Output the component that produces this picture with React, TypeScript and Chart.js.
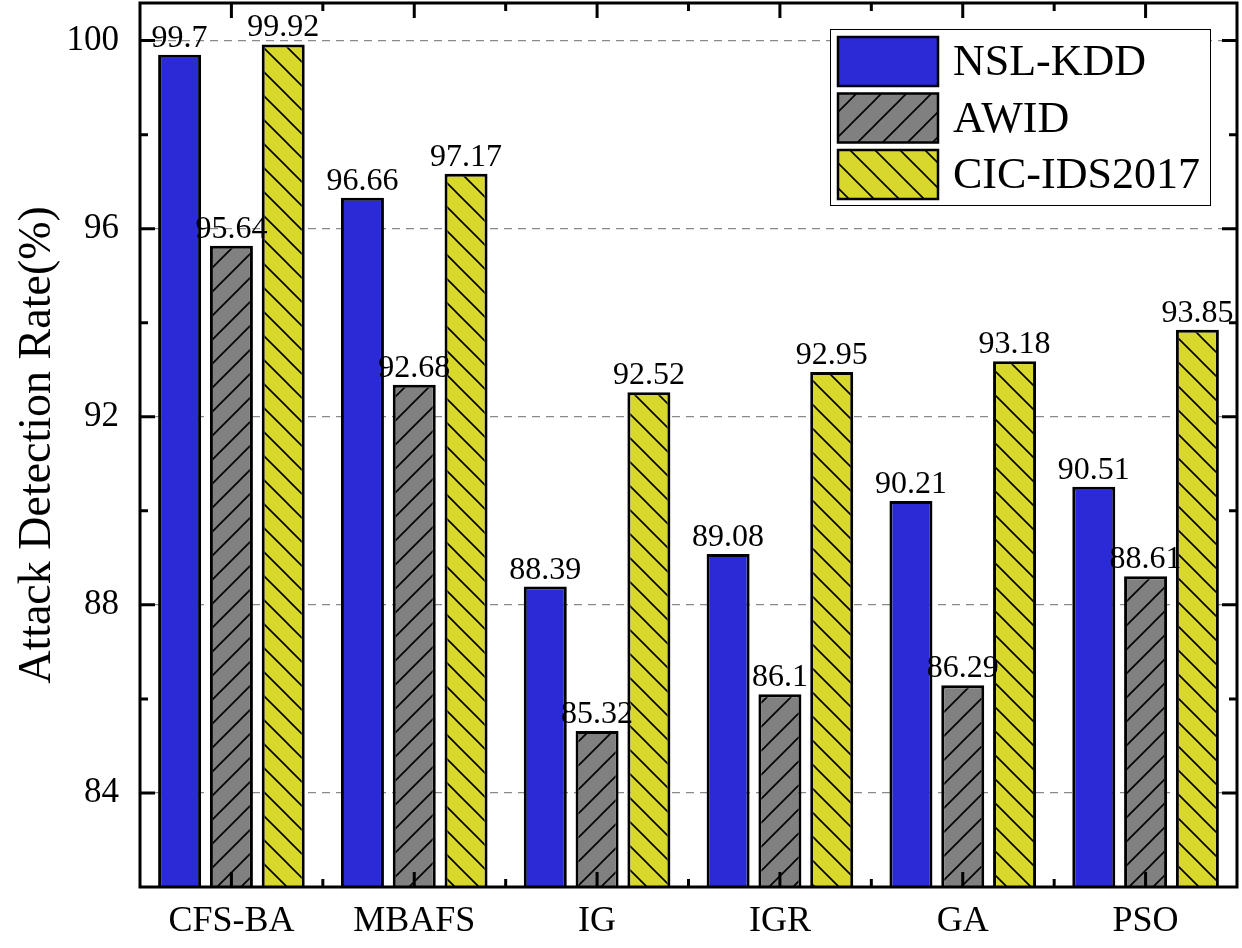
import React, { useEffect, useRef } from "react";
import { Chart, registerables } from "chart.js";

Chart.register(...registerables);

const categories = ["CFS-BA", "MBAFS", "IG", "IGR", "GA", "PSO"];
const seriesNames = ["NSL-KDD", "AWID", "CIC-IDS2017"];
const nslKdd = [99.7, 96.66, 88.39, 89.08, 90.21, 90.51];
const awid = [95.64, 92.68, 85.32, 86.1, 86.29, 88.61];
const cicIds2017 = [99.92, 97.17, 92.52, 92.95, 93.18, 93.85];
const yMajorTicks = [84, 88, 92, 96, 100];
const yMinorTicks = [86, 90, 94, 98];
const yMin = 82;
const yMax = 100.8;

const FONT = "'Liberation Serif', 'Times New Roman', serif";

function makePattern(bg: string, dir: "/" | "\\" | null, size: number): CanvasPattern | string {
  if (!dir) return bg;
  const c = document.createElement("canvas");
  c.width = size;
  c.height = size;
  const g = c.getContext("2d")!;
  g.fillStyle = bg;
  g.fillRect(0, 0, size, size);
  g.strokeStyle = "#000";
  g.lineWidth = 1.6;
  g.beginPath();
  if (dir === "/") {
    g.moveTo(-2, size + 2);
    g.lineTo(size + 2, -2);
    g.moveTo(-2, 2);
    g.lineTo(2, -2);
    g.moveTo(size - 2, size + 2);
    g.lineTo(size + 2, size - 2);
  } else {
    g.moveTo(-2, -2);
    g.lineTo(size + 2, size + 2);
    g.moveTo(-2, size - 2);
    g.lineTo(2, size + 2);
    g.moveTo(size - 2, -2);
    g.lineTo(size + 2, 2);
  }
  g.stroke();
  const p = g.createPattern(c, "repeat");
  return p || bg;
}

const framePlugin = {
  id: "frameTicks",
  afterDatasetsDraw(chart: any) {
    const { ctx, chartArea } = chart;
    const { left, right, top, bottom } = chartArea;
    const x = chart.scales.x;
    const y = chart.scales.y;
    ctx.save();
    ctx.strokeStyle = "#000";
    ctx.lineWidth = 3;
    ctx.lineCap = "butt";
    ctx.strokeRect(left, top, right - left, bottom - top);
    const major = 15;
    const minor = 8;
    ctx.beginPath();
    yMajorTicks.forEach((v) => {
      const py = y.getPixelForValue(v);
      ctx.moveTo(left, py);
      ctx.lineTo(left + major, py);
      ctx.moveTo(right, py);
      ctx.lineTo(right - major, py);
    });
    yMinorTicks.forEach((v) => {
      const py = y.getPixelForValue(v);
      ctx.moveTo(left, py);
      ctx.lineTo(left + minor, py);
      ctx.moveTo(right, py);
      ctx.lineTo(right - minor, py);
    });
    for (let i = 0; i < categories.length; i++) {
      const px = x.getPixelForValue(i);
      ctx.moveTo(px, bottom);
      ctx.lineTo(px, bottom - major);
      ctx.moveTo(px, top);
      ctx.lineTo(px, top + major);
      if (i < categories.length - 1) {
        const bx = (px + x.getPixelForValue(i + 1)) / 2;
        ctx.moveTo(bx, bottom);
        ctx.lineTo(bx, bottom - minor);
        ctx.moveTo(bx, top);
        ctx.lineTo(bx, top + minor);
      }
    }
    ctx.stroke();

    // value labels
    ctx.fillStyle = "#000";
    ctx.font = `32px ${FONT}`;
    ctx.textAlign = "center";
    ctx.textBaseline = "alphabetic";
    chart.data.datasets.forEach((ds: any, di: number) => {
      const meta = chart.getDatasetMeta(di);
      meta.data.forEach((bar: any, i: number) => {
        ctx.fillText(String(ds.data[i]), bar.x, bar.y - 8);
      });
    });
    ctx.restore();
  },
  afterDraw(chart: any) {
    const { ctx, chartArea } = chart;
    const bx = chartArea.right - 407;
    const by = chartArea.top + 26;
    const bw = 380;
    const bh = 176;
    ctx.save();
    ctx.fillStyle = "#fff";
    ctx.fillRect(bx, by, bw, bh);
    ctx.strokeStyle = "#000";
    ctx.lineWidth = 1;
    ctx.strokeRect(bx + 0.5, by + 0.5, bw, bh);
    chart.data.datasets.forEach((ds: any, i: number) => {
      const sx = bx + 8;
      const sy = by + 8 + i * 56.5;
      const sw = 100;
      const sh = 49;
      ctx.fillStyle = ds.legendFill;
      ctx.fillRect(sx, sy, sw, sh);
      ctx.lineWidth = 2.5;
      ctx.strokeStyle = "#000";
      ctx.strokeRect(sx, sy, sw, sh);
      ctx.fillStyle = "#000";
      ctx.font = `44px ${FONT}`;
      ctx.textAlign = "left";
      ctx.textBaseline = "middle";
      ctx.fillText(ds.label, sx + sw + 15, sy + sh / 2 + 2);
    });
    ctx.restore();
  },
};

export default function App() {
  const ref = useRef<HTMLCanvasElement | null>(null);
  useEffect(() => {
    if (!ref.current) return;
    const blue = "#2a2ad6";
    const gray = "#808080";
    const yellow = "#d8d82c";
    const grayPat = makePattern(gray, "/", 24);
    const yellowPat = makePattern(yellow, "\\", 24);
    const grayLeg = makePattern(gray, "/", 25);
    const yellowLeg = makePattern(yellow, "\\", 25);
    const seriesData = [nslKdd, awid, cicIds2017];
    const fills = [blue, grayPat, yellowPat];
    const legendFills = [blue, grayLeg, yellowLeg];
    const chart = new Chart(ref.current, {
      type: "bar",
      data: {
        labels: categories,
        datasets: seriesNames.map((name, i) => ({
          label: name,
          data: seriesData[i],
          backgroundColor: fills[i] as any,
          legendFill: legendFills[i],
          borderColor: "#000",
          borderWidth: 3,
          borderSkipped: "start",
          categoryPercentage: 0.85,
          barPercentage: 0.83,
        })) as any,
      },
      options: {
        animation: false,
        responsive: true,
        maintainAspectRatio: false,
        layout: { padding: { top: 3, right: 5, left: 0, bottom: 0 } },
        plugins: {
          legend: { display: false },
          tooltip: { enabled: false },
        },
        scales: {
          x: {
            grid: { display: false, drawTicks: false },
            border: { display: false },
            ticks: {
              color: "#000",
              font: { family: FONT, size: 36 },
              padding: 13,
              maxRotation: 0,
            },
            afterFit: (s: any) => {
              s.height = 61;
              s.paddingLeft = 0;
              s.paddingRight = 0;
            },
          },
          y: {
            min: yMin,
            max: yMax,
            afterBuildTicks: (s: any) => {
              s.ticks = yMajorTicks.map((v) => ({ value: v }));
            },
            grid: {
              color: "#8a8a8a",
              lineWidth: 1.3,
              drawTicks: false,
            },
            border: { display: false, dash: [8, 6] },
            ticks: {
              color: "#000",
              font: { family: FONT, size: 35 },
              padding: 21,
            },
            title: {
              display: true,
              text: "Attack Detection Rate(%)",
              color: "#000",
              font: { family: FONT, size: 46 },
              padding: { top: 10, bottom: 0 },
            },
            afterFit: (s: any) => {
              s.width = 140;
              s.paddingTop = 0;
              s.paddingBottom = 0;
            },
          },
        },
      },
      plugins: [framePlugin],
    });
    return () => chart.destroy();
  }, []);
  return (
    <div style={{ position: "fixed", left: 0, top: 0, width: 1242, height: 948, background: "#fff" }}>
      <canvas ref={ref} />
    </div>
  );
}
